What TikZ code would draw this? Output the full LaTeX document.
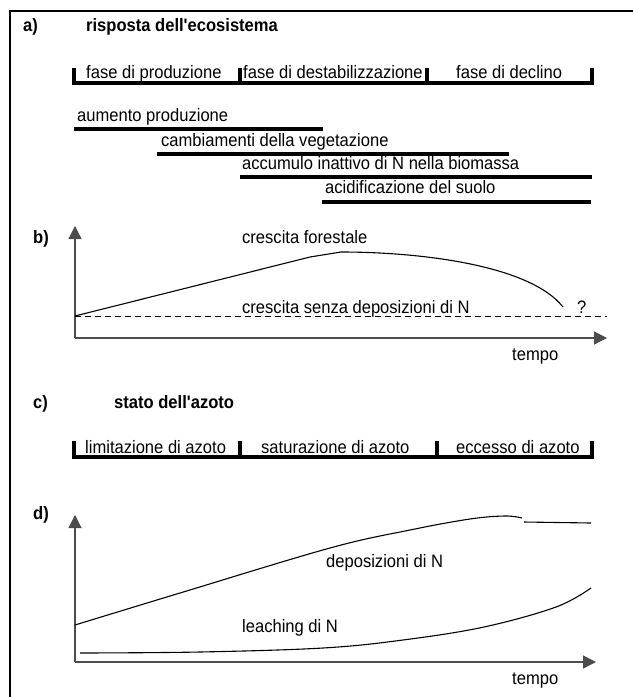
\documentclass[tikz,border=0pt]{standalone}
\usepackage{fontspec}
\setmainfont{Liberation Sans}
\usetikzlibrary{arrows.meta}

% narrow text, as in the original scan
\newcommand{\nar}[1]{\scalebox{0.92}[1]{#1}}
\newcommand{\apo}{\textquotesingle}

\begin{document}
\begin{tikzpicture}[x=1pt,y=-1pt,
  label/.style={anchor=base west,inner sep=0pt,font=\fontsize{18}{21}\selectfont},
  heading/.style={label,font=\fontsize{18}{21}\selectfont\bfseries},
  bar/.style={line width=3.5pt},
  axis/.style={black!70,line width=1.2pt,-{Triangle[length=13pt,width=13pt]}},
  curve/.style={line width=1.1pt}]

\useasboundingbox (0,0) rectangle (633,697);

%%% FRAME %%%
\draw[line width=1.5pt] (633,11) -- (10,11) -- (10,697);

%%% a) RISPOSTA %%%
\node[heading] (alab) at (23,31) {\nar{a)}};
\node[heading] (atitle) at (86,31) {\nar{risposta dell\apo ecosistema}};

\draw[bar] (74,68) -- (74,83) -- (592,83) -- (592,68);
\draw[bar] (240,68) -- (240,83);
\draw[bar] (427,68) -- (427,83);
\node[label] (prod) at (86,78) {\nar{fase di produzione}};
\node[label] (dest) at (243,78) {\nar{fase di destabilizzazione}};
\node[label] (decl) at (456,78) {\nar{fase di declino}};

\node[label] (aum) at (77,121) {\nar{aumento produzione}};
\draw[bar] (74,129) -- (323,129);
\node[label] (camb) at (161,146) {\nar{cambiamenti della vegetazione}};
\draw[bar] (157,154) -- (509,154);
\node[label] (accu) at (242,169) {\nar{accumulo inattivo di N nella biomassa}};
\draw[bar] (240,177) -- (592,177);
\node[label] (acid) at (325,193) {\nar{acidificazione del suolo}};
\draw[bar] (322,202) -- (591,202);

%%% b) CRESCITA %%%
\node[heading] (blab) at (33,243) {\nar{b)}};
\coordinate (bo) at (75,338);
\draw[axis] (bo) -- (75,226);
\draw[axis] (bo) -- (607,338);
\node[label] (btime) at (512,360) {\nar{tempo}};

\draw[dash pattern=on 6pt off 4pt,line width=1pt] (75,316) -- (607,316);
\draw[curve] (75,316) -- (310,257) -- (341,252)
  .. controls (420,252) and (530,265) .. (563,307);
\node[label] (cfor) at (242,243) {\nar{crescita forestale}};
\node[label] (csen) at (242,313) {\nar{crescita senza deposizioni di N}};
\node[label] (quest) at (577,313) {\nar{?}};

%%% c) STATO DELL'AZOTO %%%
\node[heading] (clab) at (33,408) {\nar{c)}};
\node[heading] (ctitle) at (114,408) {\nar{stato dell\apo azoto}};

\draw[bar] (74,441) -- (74,457) -- (592,457) -- (592,441);
\draw[bar] (240,441) -- (240,457);
\draw[bar] (437,441) -- (437,457);
\node[label] (lim) at (85,453) {\nar{limitazione di azoto}};
\node[label] (sat) at (261,453) {\nar{saturazione di azoto}};
\node[label] (ecc) at (456,453) {\nar{eccesso di azoto}};

%%% d) DEPOSIZIONI %%%
\node[heading] (dlab) at (33,519) {\nar{d)}};
\coordinate (do) at (75,662);
\draw[axis] (do) -- (75,515);
\draw[axis] (do) -- (596,662);
\node[label] (dtime) at (512,684) {\nar{tempo}};

\draw[curve] plot[smooth,tension=0.6] coordinates
  {(75,625) (180,593) (330,548) (410,530) (470,519) (505,516) (522,518)};
\draw[curve] (524,522) -- (591,523);
\draw[curve] plot[smooth,tension=0.6] coordinates
  {(80,653) (200,652) (323,648) (403,640) (484,627) (556,607) (591,588)};
\node[label] (depo) at (326,567) {\nar{deposizioni di N}};
\node[label] (leach) at (242,632) {\nar{leaching di N}};

\end{tikzpicture}
\end{document}
